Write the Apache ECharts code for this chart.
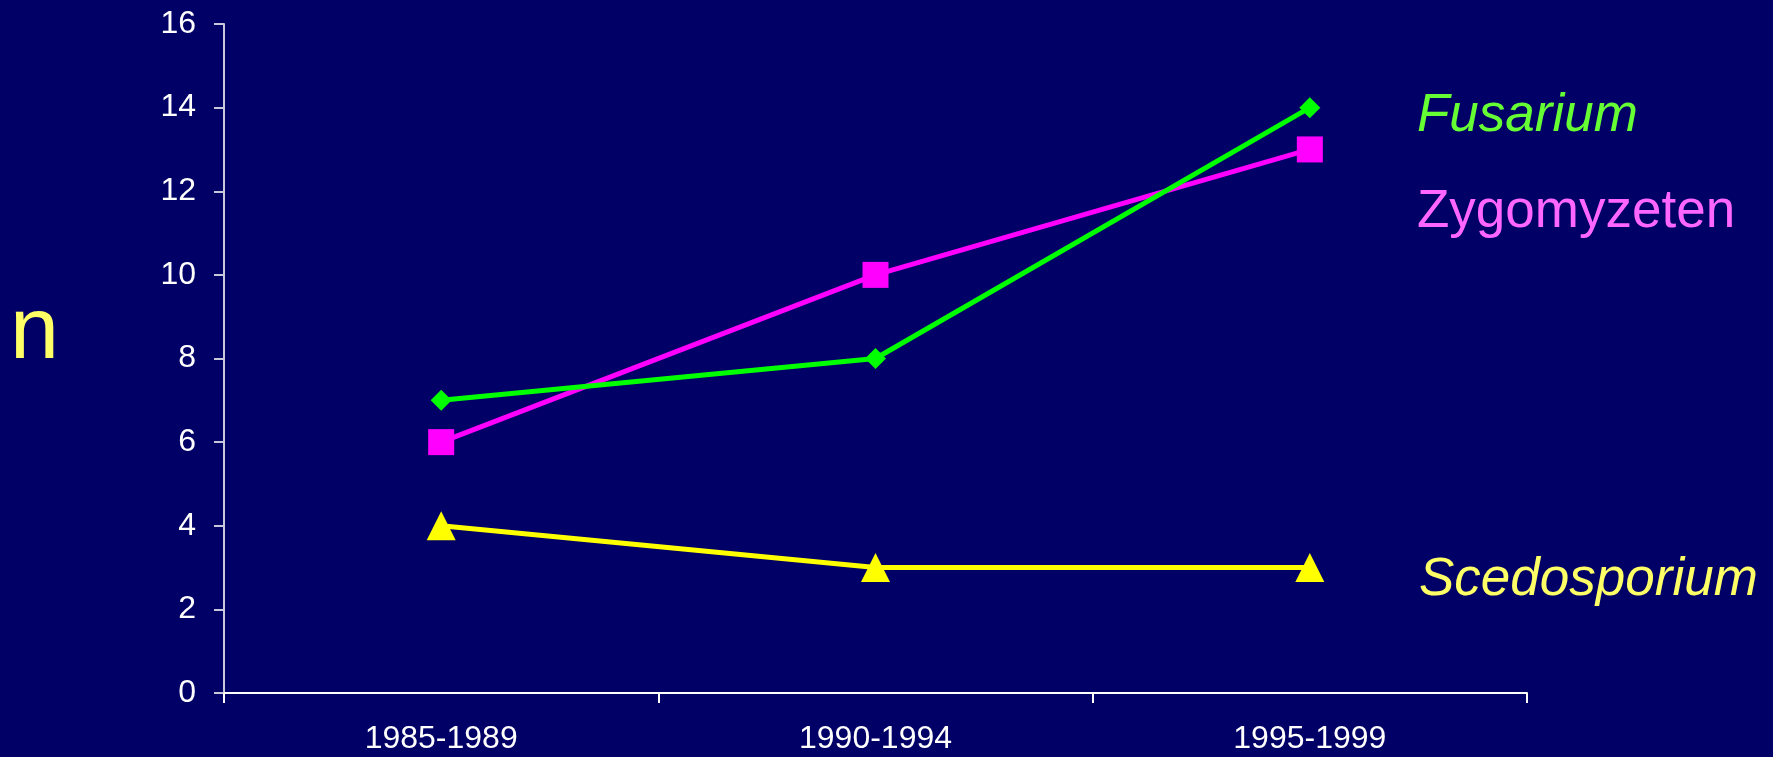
<!DOCTYPE html>
<html>
<head>
<meta charset="utf-8">
<script src="https://cdn.jsdelivr.net/npm/echarts@6/dist/echarts.min.js"></script>
<style>
  html, body { margin: 0; padding: 0; background: #000066; }
  #chart { width: 1773px; height: 757px; }
</style>
</head>
<body>
<div id="chart"></div>
<script>
// Fungal infection counts per five-year period
const periods = ['1985-1989', '1990-1994', '1995-1999'];
const fusarium = [7, 8, 14];
const zygomyzeten = [6, 10, 13];
const scedosporium = [4, 3, 3];
const yTicks = { min: 0, max: 16, interval: 2 };

const font = 'Arial, "Liberation Sans", sans-serif';
const chart = echarts.init(document.getElementById('chart'));

chart.setOption({
  backgroundColor: '#000066',
  animation: false,
  grid: { left: 224, right: 246, top: 24, bottom: 64, containLabel: false },
  xAxis: {
    type: 'category',
    data: periods,
    boundaryGap: true,
    axisLine: { lineStyle: { color: '#ffffff', width: 2 } },
    axisTick: { show: true, length: 10, lineStyle: { color: '#ffffff', width: 2 } },
    axisLabel: { color: '#ffffff', fontSize: 32, fontFamily: font, margin: 30 },
    splitLine: { show: false }
  },
  yAxis: {
    type: 'value',
    min: yTicks.min,
    max: yTicks.max,
    interval: yTicks.interval,
    axisLine: { show: true, lineStyle: { color: '#c8c8d8', width: 2 } },
    axisTick: { show: true, length: 10, lineStyle: { color: '#c8c8d8', width: 2 } },
    axisLabel: { color: '#ffffff', fontSize: 32, fontFamily: font, margin: 28 },
    splitLine: { show: false }
  },
  series: [
    {
      name: 'Scedosporium',
      type: 'line',
      data: scedosporium,
      symbol: 'triangle',
      symbolSize: [29, 29],
      itemStyle: { color: '#ffff00' },
      lineStyle: { color: '#ffff00', width: 5 },
      z: 2
    },
    {
      name: 'Zygomyzeten',
      type: 'line',
      data: zygomyzeten,
      symbol: 'rect',
      symbolSize: 26,
      itemStyle: { color: '#ff00ff' },
      lineStyle: { color: '#ff00ff', width: 5 },
      z: 3
    },
    {
      name: 'Fusarium',
      type: 'line',
      data: fusarium,
      symbol: 'diamond',
      symbolSize: 21,
      itemStyle: { color: '#00ff00' },
      lineStyle: { color: '#00ff00', width: 5 },
      z: 4
    }
  ],
  graphic: [
    {
      type: 'text', left: 10, top: 290,
      style: { text: 'n', fill: '#ffff66', font: '88px ' + font }
    },
    {
      type: 'text', left: 1417, top: 90,
      style: { text: 'Fusarium', fill: '#66ff33', font: 'italic 53px ' + font }
    },
    {
      type: 'text', left: 1417, top: 186,
      style: { text: 'Zygomyzeten', fill: '#ff66ff', font: '53px ' + font }
    },
    {
      type: 'text', left: 1419, top: 554,
      style: { text: 'Scedosporium', fill: '#ffff66', font: 'italic 53px ' + font }
    }
  ]
});
</script>
</body>
</html>
